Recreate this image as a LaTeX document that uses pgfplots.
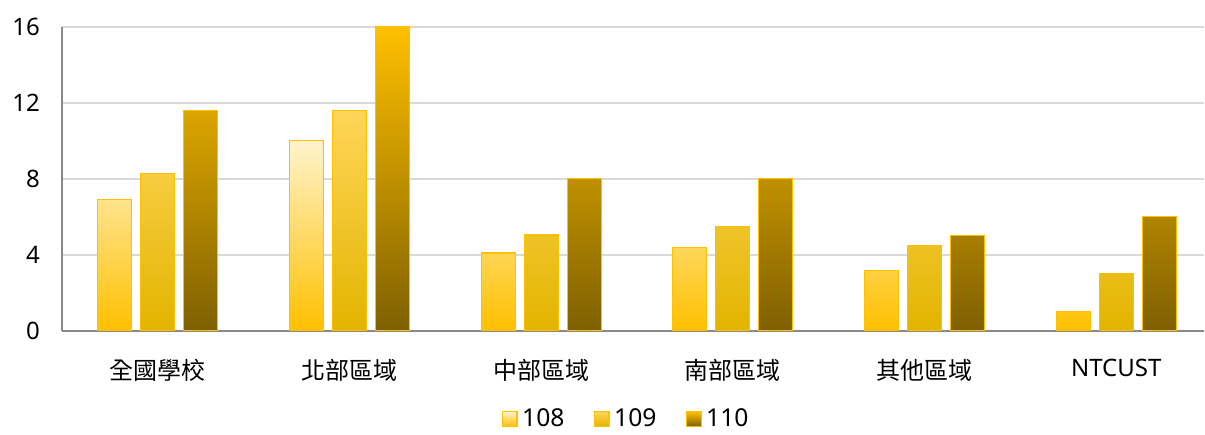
\documentclass[border=0pt]{standalone}
\usepackage{fontspec}
\setmainfont{Noto Sans}
\newfontfamily\cjk{Noto Sans CJK TC}
\usepackage{pgfplots}
\usepackage{pgfplotstable}
\pgfplotsset{compat=1.18}
\usetikzlibrary{calc}
\definecolor{gold}{HTML}{FFC000}
\definecolor{cream}{HTML}{FFF3CC}
\definecolor{lgold}{HTML}{FFD658}
\definecolor{dgoldb}{HTML}{E2B400}
\definecolor{brown}{HTML}{7F6000}
\definecolor{axgray}{HTML}{898989}
\definecolor{grgray}{HTML}{D9D9D9}
\pgfplotstableread{
x a b c
0 6.9 8.3 11.6
1 10.0 11.6 16.0
2 4.1 5.05 8.0
3 4.4 5.5 8.0
4 3.2 4.5 5.0
5 1.0 3.0 6.0
}\datatable
\begin{document}
\begin{tikzpicture}
\begin{axis}[
  name=ax,
  scale only axis,
  width=857pt, height=228pt,
  ybar=6.75pt, bar width=25.5pt,
  xmin=-0.5, xmax=5.46,
  ymin=0, ymax=16,
  ytick={0,4,8,12,16},
  xtick=data,
  xticklabels={{\cjk 全國學校},{\cjk 北部區域},{\cjk 中部區域},{\cjk 南部區域},{\cjk 其他區域},NTCUST},
  axis lines=left,
  axis line style={-, draw=axgray, line width=0.9pt},
  major tick length=0pt,
  ymajorgrids,
  grid style={draw=grgray, line width=0.9pt},
  /pgf/number format/assume math mode=true,
  tick label style={font=\fontsize{18}{21}\selectfont, text=black},
  yticklabel style={xshift=-13pt},
  xticklabel style={yshift=-18pt},
  legend style={at={(0.5,-0.29)}, anchor=center, xshift=-5pt, draw=none, fill=none,
    font=\fontsize{18.5}{21}\selectfont, legend columns=3,
    /tikz/every even column/.append style={column sep=20pt},
    /tikz/every odd column/.append style={column sep=1.5pt}},
  legend image code/.code={\draw[#1] (0pt,-5.5pt) rectangle (11pt,5.5pt);},
  every axis plot/.append style={draw=gold, line width=0.8pt},
]
\addplot[shading=axis, top color=cream, bottom color=gold, draw=gold] table[x=x,y=a] {\datatable};
\addplot[shading=axis, top color=lgold, middle color=gold, bottom color=dgoldb, draw=gold] table[x=x,y=b] {\datatable};
\addplot[shading=axis, top color=gold, bottom color=brown, draw=gold] table[x=x,y=c] {\datatable};
\legend{108,109,110}
\end{axis}
\path[use as bounding box] ($(ax.south west)+(-46.5pt,-72.75pt)$) rectangle ($(ax.north east)+(0.5pt,20.25pt)$);
\end{tikzpicture}
\end{document}
